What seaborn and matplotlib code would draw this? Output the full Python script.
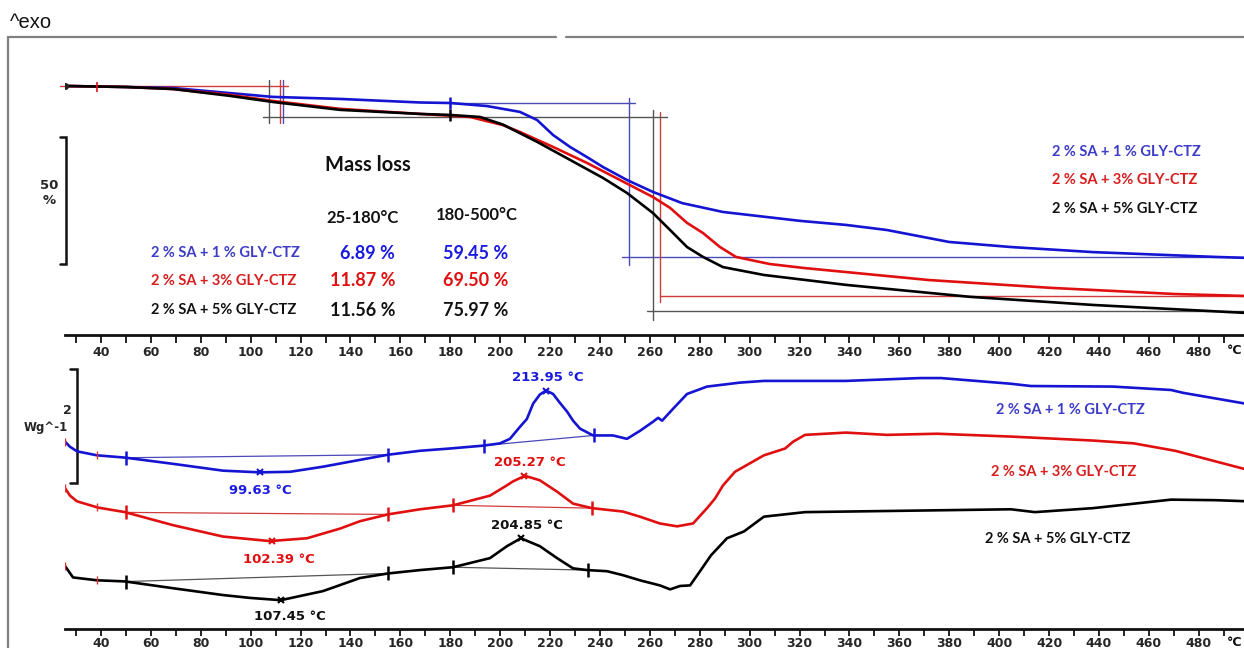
import numpy as np
import pandas as pd
import matplotlib
matplotlib.use("Agg")
import matplotlib.pyplot as plt
import seaborn as sns
from matplotlib.lines import Line2D
from matplotlib.ticker import FixedLocator

# ---------------- data ----------------
samples = ["2 % SA + 1 % GLY-CTZ", "2 % SA + 3% GLY-CTZ", "2 % SA + 5% GLY-CTZ"]

# TGA (mass %, vs temperature °C)
tga_T_1 = [25.6, 50.0, 68.9, 91.7, 108.9, 135.8, 167.9, 180.0, 194.7, 207.9, 214.8, 221.2, 228.0, 234.8,
           241.2, 250.8, 261.2, 272.9, 289.3, 320.2, 338.6, 355.0, 379.9, 404.7, 437.6, 486.9, 500.0]
tga_m_1 = [100.0, 99.6, 99.2, 97.2, 95.7, 94.9, 93.5, 93.3, 92.1, 89.8, 86.6, 80.7, 76.0, 72.0,
           68.1, 63.0, 58.3, 53.9, 50.4, 46.9, 45.3, 43.3, 38.6, 36.6, 34.6, 32.7, 32.3]
tga_T_3 = [25.6, 50.0, 68.9, 91.7, 108.9, 135.8, 167.9, 187.9, 201.1, 207.9, 221.2, 234.8, 248.0, 261.2,
           268.1, 274.9, 281.3, 288.1, 294.5, 308.1, 322.2, 371.9, 421.2, 470.5, 500.0]
tga_m_3 = [100.0, 99.6, 98.8, 96.5, 94.1, 91.0, 89.0, 87.8, 84.6, 81.9, 76.0, 69.7, 63.0, 56.3,
           52.0, 46.1, 42.1, 36.6, 32.7, 29.9, 28.3, 23.6, 20.5, 18.1, 17.3]
tga_T_5 = [25.6, 50.0, 68.9, 91.7, 108.9, 135.8, 167.9, 179.9, 191.9, 201.1, 214.8, 228.0, 241.2, 250.8,
           261.2, 268.1, 274.9, 281.3, 289.3, 305.7, 338.6, 388.3, 437.6, 500.0]
tga_m_5 = [100.0, 99.6, 98.8, 96.1, 93.7, 90.6, 89.0, 88.6, 87.8, 84.8, 78.0, 70.9, 63.8, 57.9,
           50.0, 43.3, 36.6, 32.7, 28.7, 25.6, 21.7, 17.0, 13.8, 10.6]

# DSC (heat flow W/g as plotted, curves stacked)
dsc_T_1 = [25.6, 27.6, 30.4, 38.4, 49.6, 68.9, 88.9, 103.7, 115.8, 129.0, 143.8, 155.0, 167.9, 179.9,
           193.1, 199.9, 203.9, 207.9, 210.7, 213.2, 215.9, 218.4, 221.2, 224.0, 226.8, 229.2, 232.0,
           237.2, 245.2, 250.8, 256.0, 261.2, 263.3, 264.9, 269.3, 274.9, 282.9, 296.1, 305.7, 338.6,
           368.3, 376.7, 404.7, 412.7, 445.6, 468.9, 473.7, 500.0]
dsc_v_1 = [3.28, 3.19, 3.11, 3.04, 3.00, 2.89, 2.77, 2.74, 2.75, 2.84, 2.96, 3.05, 3.12, 3.16,
           3.21, 3.25, 3.33, 3.54, 3.68, 3.95, 4.11, 4.18, 4.12, 3.96, 3.81, 3.65, 3.51,
           3.39, 3.39, 3.33, 3.47, 3.63, 3.70, 3.65, 3.86, 4.12, 4.25, 4.32, 4.35, 4.35,
           4.40, 4.40, 4.30, 4.26, 4.25, 4.19, 4.14, 3.94]
dsc_T_3 = [25.6, 27.6, 30.4, 38.8, 49.6, 68.9, 88.9, 107.7, 122.6, 135.8, 143.8, 155.0, 167.9, 181.1,
           195.9, 201.9, 205.1, 209.9, 215.9, 222.8, 229.2, 236.8, 249.2, 256.0, 264.0, 270.9, 277.3,
           282.9, 286.1, 289.3, 294.1, 305.7, 314.2, 317.4, 322.2, 338.6, 355.0, 375.1, 404.7, 437.6,
           454.0, 470.5, 500.0]
dsc_v_3 = [2.46, 2.33, 2.23, 2.12, 2.04, 1.81, 1.61, 1.53, 1.58, 1.75, 1.88, 2.00, 2.09, 2.16,
           2.33, 2.49, 2.58, 2.68, 2.60, 2.40, 2.19, 2.11, 2.05, 1.96, 1.84, 1.79, 1.84,
           2.11, 2.28, 2.51, 2.75, 3.04, 3.16, 3.28, 3.40, 3.44, 3.40, 3.42, 3.37, 3.30,
           3.25, 3.12, 2.78]
dsc_T_5 = [25.6, 28.8, 38.4, 49.6, 68.9, 88.9, 99.7, 112.1, 129.0, 143.8, 155.0, 167.9, 181.1, 195.9,
           202.7, 208.3, 215.9, 222.8, 229.2, 234.8, 242.8, 249.2, 256.0, 264.0, 268.1, 272.1, 276.1,
           280.1, 284.5, 290.9, 297.7, 305.7, 322.2, 338.6, 371.9, 404.7, 414.3, 437.6, 468.9, 486.9, 500.0]
dsc_v_5 = [1.09, 0.89, 0.84, 0.82, 0.70, 0.58, 0.53, 0.49, 0.65, 0.88, 0.96, 1.02, 1.07, 1.23,
           1.44, 1.58, 1.44, 1.23, 1.05, 1.02, 1.00, 0.93, 0.84, 0.75, 0.68, 0.74, 0.75,
           1.00, 1.28, 1.58, 1.70, 1.96, 2.04, 2.05, 2.07, 2.09, 2.04, 2.11, 2.26, 2.25, 2.23]

# DSC integration limits and peak positions (°C on the plotted axis)
dsc_limits = [[50, 155, 193.5, 237.5], [50, 155, 181, 236.8], [50, 155, 181, 235]]
dsc_min_T = [103.7, 108.5, 112.1]
dsc_max_T = [218.4, 209.6, 208.3]
dsc_min_lab = ["99.63 °C", "102.39 °C", "107.45 °C"]
dsc_max_lab = ["213.95 °C", "205.27 °C", "204.85 °C"]

# TGA evaluation lines: (T start, T end, mass) and (T, mass low, mass high)
tga_step_start = [180.0, 180.0, 180.0]
tga_hlines = [[(180, 254, 93.3), (249, 500, 32.7)],
              [(23.5, 115, 100.0), (264, 500, 17.3)],
              [(105, 267, 87.8), (259, 500, 11.4)]]
tga_vlines = [[(113.0, 85.4, 102.4), (251.6, 29.5, 95.3)],
              [(111.7, 85.4, 102.4), (264.0, 15.0, 89.8)],
              [(107.3, 85.4, 102.4), (261.2, 7.9, 90.6)]]

mass_loss_1 = ["6.89 %", "11.87 %", "11.56 %"]
mass_loss_2 = ["59.45 %", "69.50 %", "75.97 %"]

ticks_major = list(range(40, 481, 20)) + [500]
tick_labels = [str(t) for t in range(40, 481, 20)] + [""]
unit_label = "°C"
ticks_minor = list(range(30, 500, 20))

# ---------------- style ----------------
sns.set_style("white")
plt.rcParams["font.family"] = ["DejaVu Sans"]

curve_cols = ["#1414d2", "#e01010", "#000000"]
thin_cols = ["#4a4ab8", "#d03c3c", "#555555"]
text_cols = ["#3c3cc8", "#d81e1e", "#111111"]
num_cols = ["#1a1ae0", "#e01010", "#111111"]
pal = dict(zip(samples, curve_cols))

W, H = 1244, 648
fig = plt.figure(figsize=(W / 100, H / 100), dpi=100)
fig.patch.set_facecolor("white")


def fx(px):
    return px / W


def fy(py):
    return 1 - py / H


X0, X1 = 25.5, 500.2
axl = 64.8 / W
axw = (1249.2 - 64.8) / W
ax1 = fig.add_axes([axl, fy(335), axw, (335 - 40) / H])
ax2 = fig.add_axes([axl, fy(629), axw, (629 - 340) / H])

tga_df = pd.concat([
    pd.DataFrame({"T": t, "val": m, "sample": s})
    for t, m, s in zip([tga_T_1, tga_T_3, tga_T_5], [tga_m_1, tga_m_3, tga_m_5], samples)
])
dsc_df = pd.concat([
    pd.DataFrame({"T": t, "val": v, "sample": s})
    for t, v, s in zip([dsc_T_1, dsc_T_3, dsc_T_5], [dsc_v_1, dsc_v_3, dsc_v_5], samples)
])

for ax, df, tl, pd_, lab_dy in [(ax1, tga_df, 6, 2, -16), (ax2, dsc_df, 5, 0.5, -14)]:
    sns.lineplot(data=df, x="T", y="val", hue="sample", palette=pal, sort=False,
                 estimator=None, legend=False, linewidth=1.9, ax=ax, zorder=3)
    ax.set_xlim(X0, X1)
    ax.set_xlabel("")
    ax.set_ylabel("")
    ax.set_yticks([])
    ax.set_facecolor("none")
    sns.despine(ax=ax, left=True, top=True, right=True)
    ax.spines["bottom"].set_linewidth(2.0)
    ax.spines["bottom"].set_color("#111111")
    ax.xaxis.set_major_locator(FixedLocator(ticks_major))
    ax.xaxis.set_minor_locator(FixedLocator(ticks_minor))
    ax.set_xticklabels(tick_labels, fontsize=9, fontweight="bold", family="DejaVu Sans")
    ax.tick_params(axis="x", which="both", direction="out", length=tl, width=1.3,
                   pad=pd_, color="#111111", bottom=True)
    ax.annotate(unit_label, xy=(ticks_major[-1], 0), xycoords=("data", "axes fraction"),
                xytext=(-6, lab_dy), textcoords="offset pixels", ha="right", va="center",
                fontsize=9, fontweight="bold", family="DejaVu Sans", color="#111111",
                annotation_clip=False)

ax1.set_ylim(1.97, 118.1)
ax2.set_ylim(-1 / 57, 289 / 57)

# ---- TGA evaluation lines
for i in range(3):
    for (a, b, m) in tga_hlines[i]:
        ax1.plot([a, b], [m, m], color=thin_cols[i], lw=1.0, zorder=2, clip_on=False)
    for (t, lo, hi) in tga_vlines[i]:
        ax1.plot([t, t], [lo, hi], color=thin_cols[i], lw=1.0, zorder=2)
ax1.plot([tga_step_start[0]], [np.interp(tga_step_start[0], tga_T_1, tga_m_1)], marker="|",
         ms=9, mew=1.8, color=curve_cols[0], zorder=4)
ax1.plot([tga_step_start[2]], [np.interp(tga_step_start[2], tga_T_5, tga_m_5)], marker="|",
         ms=9, mew=1.8, color=curve_cols[2], zorder=4)
ax1.plot([tga_T_5[0]], [tga_m_5[0]], marker="o", ms=4, color="#222222", zorder=4)
ax1.plot([38.4], [np.interp(38.4, tga_T_3, tga_m_3)], marker="|", ms=7, mew=1.2,
         color=curve_cols[1], zorder=4)

# TGA scale bar (50 %)
bx, bs = 26.0, 23.6
ax1.plot([bs, bx, bx, bs], [80, 80, 30, 30], color="#111111", lw=1.8, clip_on=False,
         solid_joinstyle="miter")
fig.text(fx(49), fy(185), "50", fontsize=9.5, fontweight="bold", ha="center", va="center")
fig.text(fx(49), fy(201), "%", fontsize=9.5, fontweight="bold", ha="center", va="center")

# ---- DSC markers, baselines, labels
dsc_T = [dsc_T_1, dsc_T_3, dsc_T_5]
dsc_v = [dsc_v_1, dsc_v_3, dsc_v_5]
min_off = [(0, -18), (7, -19), (9, -16)]
max_off = [(2, 13), (6, 14), (6, 13)]
for i in range(3):
    T, v = dsc_T[i], dsc_v[i]
    lims = dsc_limits[i]
    lv = np.interp(lims, T, v)
    ax2.plot(lims[:2], lv[:2], color=thin_cols[i], lw=0.9, zorder=2)
    ax2.plot(lims[2:], lv[2:], color=thin_cols[i], lw=0.9, zorder=2)
    ax2.plot(lims, lv, ls="none", marker="|", ms=10, mew=1.8, color=curve_cols[i], zorder=4)
    ax2.plot([38.4], [np.interp(38.4, T, v)], marker="|", ms=6, mew=1.0, color="#e03030", zorder=4)
    ax2.plot([T[0]], [v[0]], marker="|", ms=6, mew=1.0, color="#e03030", zorder=4)
    for tpk, lab, off in [(dsc_min_T[i], dsc_min_lab[i], min_off[i]),
                          (dsc_max_T[i], dsc_max_lab[i], max_off[i])]:
        yv = np.interp(tpk, T, v)
        ax2.plot([tpk], [yv], marker="x", ms=5, mew=1.5, color=curve_cols[i], zorder=5)
        ax2.annotate(lab, (tpk, yv), xytext=off, textcoords="offset pixels", ha="center",
                     va="center", fontsize=9.5, fontweight="bold", color=num_cols[i],
                     family="DejaVu Sans")

# DSC scale bar (2 W/g)
dx, ds = 30.4, 27.6
ax2.plot([ds, dx, dx, ds], [4.56, 4.56, 2.56, 2.56], color="#111111", lw=1.8, clip_on=False,
         solid_joinstyle="miter")
fig.text(fx(67), fy(410), "2", fontsize=9, fontweight="bold", ha="center", va="center")
fig.text(fx(46), fy(427), "Wg^-1", fontsize=8.5, fontweight="bold", ha="center", va="center")

# ---- text blocks
tf = "Lato"
fig.text(fx(368), fy(165), "Mass loss", fontsize=14.5, fontweight="bold", family=tf,
         ha="center", va="center", color="#111111")
fig.text(fx(363), fy(218), "25-180°C", fontsize=12, fontweight="bold", family=tf,
         ha="center", va="center", color="#111111")
fig.text(fx(477), fy(215), "180-500°C", fontsize=12, fontweight="bold", family=tf,
         ha="center", va="center", color="#111111")
rows_y = [253, 281, 310]
for i in range(3):
    fig.text(fx(151), fy(rows_y[i]), samples[i], fontsize=10.5, fontweight="bold", family=tf,
             ha="left", va="center", color=text_cols[i])
    fig.text(fx(395), fy(rows_y[i]), mass_loss_1[i], fontsize=13, fontweight="bold", family=tf,
             ha="right", va="center", color=num_cols[i])
    fig.text(fx(508), fy(rows_y[i]), mass_loss_2[i], fontsize=13, fontweight="bold", family=tf,
             ha="right", va="center", color=num_cols[i])

leg1_y = [152, 180, 209]
leg2 = [(996, 410), (991, 472), (985, 539)]
for i in range(3):
    fig.text(fx(1052), fy(leg1_y[i]), samples[i], fontsize=10.5, fontweight="bold", family=tf,
             ha="left", va="center", color=text_cols[i])
    fig.text(fx(leg2[i][0]), fy(leg2[i][1]), samples[i], fontsize=10.5, fontweight="bold",
             family=tf, ha="left", va="center", color=text_cols[i])

# ---- frame and ^exo
fig.text(fx(10), fy(22), "^exo", fontsize=14.5, family="Liberation Sans", ha="left",
         va="center", color="#111111")
fc = "#808080"
fig.add_artist(Line2D([fx(8), fx(556)], [fy(37), fy(37)], color=fc, lw=1.6))
fig.add_artist(Line2D([fx(566), fx(1244)], [fy(37), fy(37)], color=fc, lw=1.6))
fig.add_artist(Line2D([fx(8), fx(8)], [fy(37), fy(648)], color=fc, lw=1.6))

fig.savefig("out.png", dpi=100, facecolor="white")
